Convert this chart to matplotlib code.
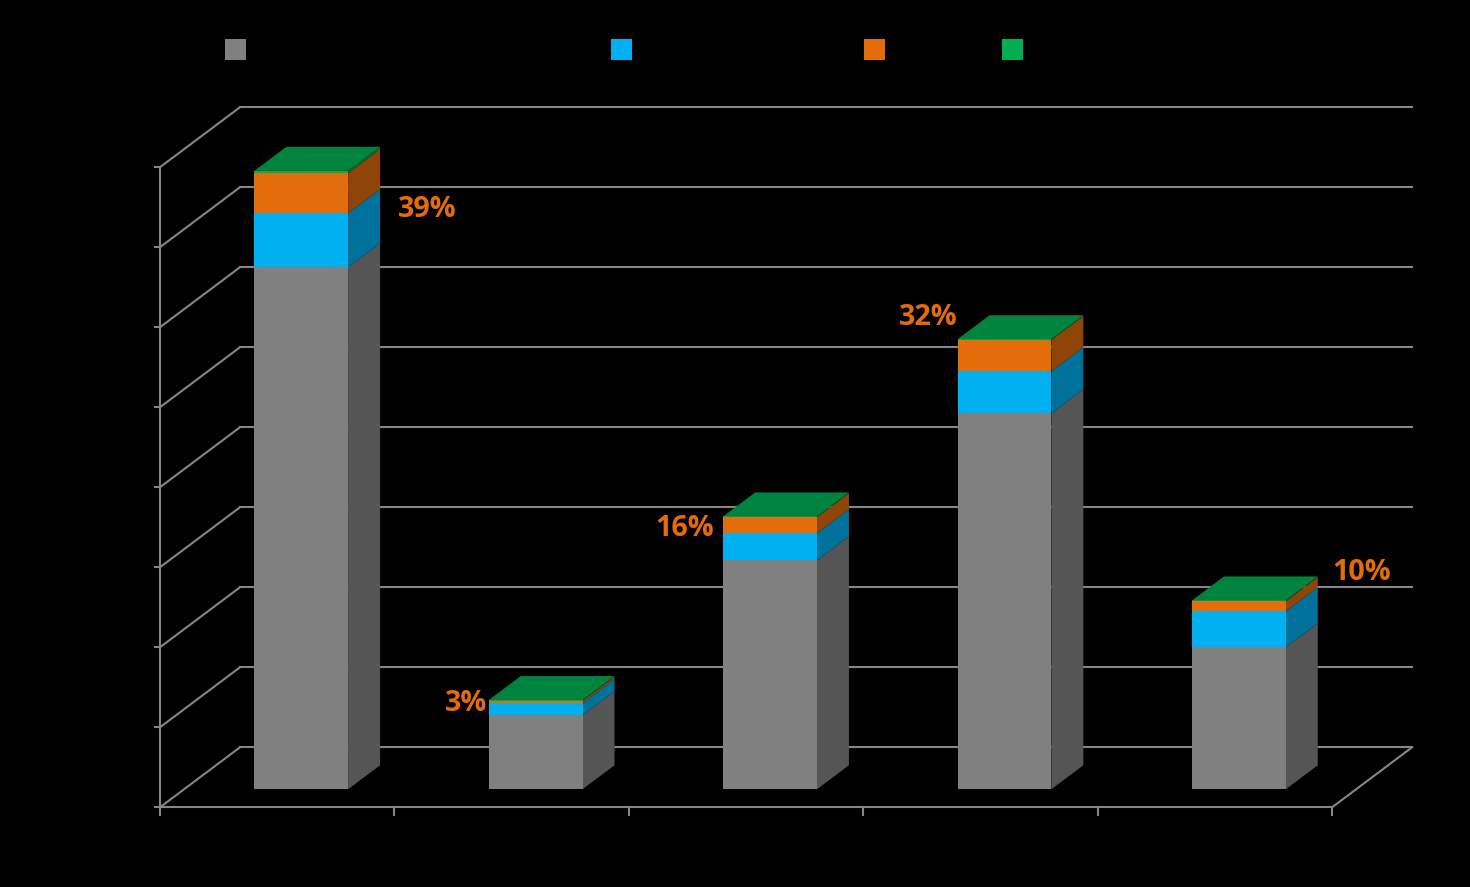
import matplotlib
matplotlib.use("Agg")
import matplotlib.pyplot as plt
from matplotlib.patches import Rectangle

# values, one unit = one gridline step
serie1 = [6.525, 0.925, 2.86, 4.70, 1.775]
serie2 = [0.675, 0.15, 0.34, 0.525, 0.45]
serie3 = [0.50, 0.03, 0.20, 0.39, 0.125]
serie4 = [0.03, 0.01, 0.01, 0.01, 0.01]
etichete = ["39%", "3%", "16%", "32%", "10%"]

culori_fata = ["#808080", "#00B0F0", "#E46C0A", "#00B050"]
culori_lateral = ["#555555", "#00719B", "#8F4507", "#006F32"]
culoare_sus = "#00843D"
culoare_linii = "#868686"
culoare_text = "#E46C0A"

# 3d look: how far the back wall is moved, in data units
dx = 80 / 234.4
dy = 0.75
NR = 5
VMAX = 8

def proiectie(x, y, z):
    return x + z * dx, y + z * dy

def poligon(ax, puncte, culoare, zorder):
    xs = [proiectie(*p)[0] for p in puncte]
    ys = [proiectie(*p)[1] for p in puncte]
    ax.fill(xs, ys, color=culoare, lw=0, zorder=zorder, clip_on=False)

fig = plt.figure(figsize=(14.701, 8.871), dpi=100, facecolor="black")
ax = fig.add_axes([160 / 1470, 79.7 / 887, 1172 / 1470, 640 / 887])
ax.set_xlim(0, NR)
ax.set_ylim(0, VMAX)
ax.axis("off")

# walls and floor
lw = 1.5
for v in range(VMAX + 1):
    x0, y0 = proiectie(0, v, 1)
    x1, y1 = proiectie(NR, v, 1)
    ax.plot([x0, x1], [y0, y1], color=culoare_linii, lw=lw, clip_on=False, zorder=1)
    ax.plot([0, x0], [v, y0], color=culoare_linii, lw=lw, clip_on=False, zorder=1)
    ax.plot([-5 / 234.4, 0], [v, v], color=culoare_linii, lw=lw, clip_on=False, zorder=1)
ax.plot([0, 0], [0, VMAX], color=culoare_linii, lw=lw, clip_on=False, zorder=1)
ax.plot([0, NR], [0, 0], color=culoare_linii, lw=lw, clip_on=False, zorder=1)
xd, yd = proiectie(NR, 0, 1)
ax.plot([NR, xd], [0, yd], color=culoare_linii, lw=lw, clip_on=False, zorder=1)
for i in range(NR + 1):
    ax.plot([i, i], [0, -8 / 80], color=culoare_linii, lw=lw, clip_on=False, zorder=1)

# bars, front depth 0.3 to back depth 0.7
latime = 0.2
z0, z1 = 0.3, 0.7
serii = [serie1, serie2, serie3, serie4]
for i in range(NR):
    st = i + 0.5 - latime
    dr = i + 0.5 + latime
    jos = 0
    for s, serie in enumerate(serii):
        sus = jos + serie[i]
        poligon(ax, [(dr, jos, z0), (dr, jos, z1), (dr, sus, z1), (dr, sus, z0)], culori_lateral[s], 3 + s)
        poligon(ax, [(st, jos, z0), (dr, jos, z0), (dr, sus, z0), (st, sus, z0)], culori_fata[s], 3 + s)
        jos = sus
    poligon(ax, [(st, jos, z0), (dr, jos, z0), (dr, jos, z1), (st, jos, z1)], culoare_sus, 8)

# percent labels, offset in pixels from the bar's front top left corner
offset = [(172.5, -35), (-23, 0), (-38.5, -8), (-29, 25), (169.5, 31.5)]
for i in range(NR):
    total = serie1[i] + serie2[i] + serie3[i] + serie4[i]
    xa, ya = proiectie(i + 0.5 - latime, total, z0)
    ax.annotate(etichete[i], (xa, ya), xytext=offset[i], textcoords="offset pixels",
                color=culoare_text, fontsize=20.7, fontweight="bold", family="Open Sans",
                ha="center", va="center_baseline", annotation_clip=False, zorder=10)

# legend squares, the legend text is black on black in the original
for px, c in zip([225, 611, 864, 1002], culori_fata):
    fig.add_artist(Rectangle((px / 1470, (887 - 60) / 887), 21 / 1470, 21 / 887,
                             transform=fig.transFigure, facecolor=c, lw=0))

fig.savefig("out.png", dpi=100, facecolor="black")
